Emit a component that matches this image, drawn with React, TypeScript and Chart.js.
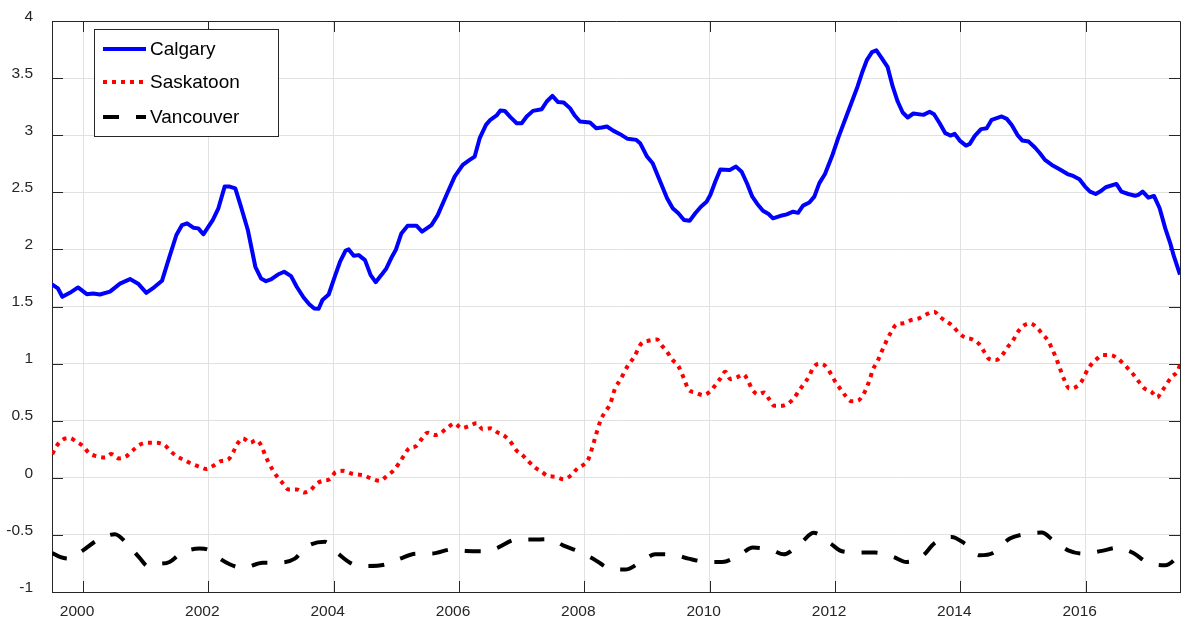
import React, { useEffect, useRef } from "react";
import { Chart, registerables } from "chart.js";

Chart.register(...registerables);

// ---------- data ----------
const seriesNames = ["Calgary", "Saskatoon", "Vancouver"];

const calgaryYears = [
  1999.505, 1999.6, 1999.67, 1999.79, 1999.92, 2000.06, 2000.16, 2000.27, 2000.43, 2000.59, 2000.75, 2000.88,
  2001.01, 2001.14, 2001.26, 2001.38, 2001.49, 2001.58, 2001.66, 2001.76, 2001.84, 2001.92, 2002.07, 2002.16,
  2002.26, 2002.34, 2002.43, 2002.52, 2002.63, 2002.75, 2002.84, 2002.92, 2003.0, 2003.11, 2003.21, 2003.32,
  2003.41, 2003.52, 2003.61, 2003.69, 2003.76, 2003.82, 2003.92, 2004.02, 2004.1, 2004.19, 2004.24, 2004.32,
  2004.4, 2004.5, 2004.59, 2004.67, 2004.76, 2004.84, 2004.93, 2004.99, 2005.08, 2005.18, 2005.32, 2005.41,
  2005.56, 2005.66, 2005.8, 2005.93, 2006.06, 2006.17, 2006.25, 2006.33, 2006.43, 2006.5, 2006.6, 2006.66,
  2006.73, 2006.82, 2006.92, 2007.0, 2007.08, 2007.18, 2007.32, 2007.4, 2007.49, 2007.58, 2007.67, 2007.77,
  2007.85, 2007.93, 2008.09, 2008.19, 2008.28, 2008.36, 2008.46, 2008.57, 2008.69, 2008.83, 2008.89, 2009.0,
  2009.09, 2009.21, 2009.32, 2009.41, 2009.5, 2009.59, 2009.68, 2009.77, 2009.86, 2009.95, 2010.01, 2010.09,
  2010.17, 2010.32, 2010.42, 2010.51, 2010.6, 2010.68, 2010.76, 2010.85, 2010.94, 2011.01, 2011.12, 2011.23,
  2011.33, 2011.41, 2011.49, 2011.59, 2011.67, 2011.75, 2011.84, 2011.95, 2012.05, 2012.16, 2012.27, 2012.36,
  2012.43, 2012.51, 2012.59, 2012.66, 2012.74, 2012.84, 2012.92, 2013.0, 2013.08, 2013.16, 2013.25, 2013.41,
  2013.51, 2013.58, 2013.67, 2013.76, 2013.84, 2013.91, 2013.99, 2014.09, 2014.15, 2014.23, 2014.33, 2014.42,
  2014.5, 2014.58, 2014.66, 2014.74, 2014.82, 2014.91, 2014.99, 2015.09, 2015.19, 2015.27, 2015.35, 2015.46,
  2015.59, 2015.71, 2015.8, 2015.9, 2015.99, 2016.07, 2016.16, 2016.23, 2016.32, 2016.49, 2016.57, 2016.68,
  2016.79, 2016.84, 2016.91, 2017.0, 2017.09, 2017.18, 2017.27, 2017.35, 2017.41, 2017.505,
];
const calgaryValues = [
  1.693, 1.658, 1.585, 1.62, 1.667, 1.608, 1.614, 1.605, 1.63, 1.7, 1.74, 1.7,
  1.62, 1.67, 1.725, 1.936, 2.126, 2.213, 2.228, 2.19, 2.184, 2.132, 2.257, 2.36,
  2.55, 2.55, 2.535, 2.374, 2.17, 1.848, 1.746, 1.722, 1.737, 1.78, 1.804, 1.766,
  1.673, 1.579, 1.52, 1.482, 1.48, 1.556, 1.605, 1.766, 1.89, 1.99, 2.0, 1.944,
  1.95, 1.906, 1.775, 1.713, 1.775, 1.833, 1.936, 1.994, 2.14, 2.208, 2.208, 2.155,
  2.213, 2.3, 2.477, 2.637, 2.74, 2.784, 2.813, 2.974, 3.09, 3.135, 3.173, 3.216,
  3.213, 3.158, 3.105, 3.105, 3.164, 3.213, 3.228, 3.295, 3.345, 3.29, 3.287, 3.237,
  3.17, 3.12, 3.111, 3.061, 3.067, 3.076, 3.04, 3.009, 2.968, 2.959, 2.93, 2.813,
  2.754, 2.594, 2.447, 2.36, 2.316, 2.257, 2.25, 2.316, 2.374, 2.418, 2.477, 2.594,
  2.7, 2.696, 2.725, 2.68, 2.573, 2.462, 2.398, 2.339, 2.31, 2.272, 2.292, 2.307,
  2.33, 2.32, 2.383, 2.41, 2.462, 2.58, 2.66, 2.813, 2.974, 3.135, 3.295, 3.427,
  3.544, 3.66, 3.728, 3.743, 3.68, 3.596, 3.427, 3.295, 3.199, 3.155, 3.19, 3.178,
  3.205, 3.184, 3.105, 3.018, 2.997, 3.012, 2.953, 2.909, 2.924, 2.994, 3.053, 3.061,
  3.135, 3.149, 3.164, 3.143, 3.09, 3.003, 2.953, 2.944, 2.892, 2.842, 2.784, 2.74,
  2.7, 2.66, 2.643, 2.614, 2.55, 2.506, 2.485, 2.506, 2.544, 2.573, 2.506, 2.485,
  2.47, 2.477, 2.506, 2.453, 2.468, 2.36, 2.184, 2.053, 1.936, 1.78,
];

const saskatoonYears = [
  1999.51, 1999.58, 1999.68, 1999.79, 1999.89, 2000.0, 2000.09, 2000.21, 2000.35, 2000.45, 2000.57, 2000.68,
  2000.79, 2000.9, 2001.02, 2001.17, 2001.3, 2001.39, 2001.49, 2001.62, 2001.72, 2001.86, 2001.97, 2002.08,
  2002.2, 2002.32, 2002.4, 2002.46, 2002.55, 2002.67, 2002.76, 2002.85, 2002.9, 2002.96, 2003.03, 2003.1,
  2003.19, 2003.28, 2003.41, 2003.53, 2003.63, 2003.73, 2003.83, 2003.94, 2004.03, 2004.15, 2004.28, 2004.38,
  2004.47, 2004.6, 2004.74, 2004.85, 2004.96, 2005.04, 2005.12, 2005.2, 2005.32, 2005.39, 2005.5, 2005.61,
  2005.7, 2005.82, 2005.93, 2006.04, 2006.16, 2006.28, 2006.38, 2006.5, 2006.61, 2006.74, 2006.83, 2006.91,
  2007.01, 2007.11, 2007.21, 2007.32, 2007.41, 2007.54, 2007.67, 2007.79, 2007.89, 2008.0, 2008.07, 2008.14,
  2008.18, 2008.26, 2008.33, 2008.41, 2008.49, 2008.57, 2008.7, 2008.79, 2008.91, 2009.02, 2009.16, 2009.23,
  2009.33, 2009.4, 2009.5, 2009.6, 2009.66, 2009.77, 2009.9, 2010.0, 2010.09, 2010.17, 2010.25, 2010.33,
  2010.45, 2010.54, 2010.62, 2010.68, 2010.77, 2010.87, 2010.95, 2011.03, 2011.14, 2011.25, 2011.34, 2011.43,
  2011.51, 2011.59, 2011.65, 2011.75, 2011.85, 2011.94, 2012.0, 2012.08, 2012.16, 2012.26, 2012.36, 2012.45,
  2012.51, 2012.56, 2012.6, 2012.68, 2012.73, 2012.78, 2012.84, 2012.9, 2012.98, 2013.1, 2013.22, 2013.34,
  2013.46, 2013.58, 2013.68, 2013.78, 2013.88, 2013.97, 2014.07, 2014.19, 2014.3, 2014.38, 2014.45, 2014.57,
  2014.68, 2014.76, 2014.85, 2014.91, 2015.0, 2015.11, 2015.23, 2015.31, 2015.4, 2015.46, 2015.52, 2015.57,
  2015.65, 2015.74, 2015.83, 2015.93, 2015.99, 2016.06, 2016.16, 2016.27, 2016.39, 2016.51, 2016.6, 2016.69,
  2016.77, 2016.85, 2016.94, 2017.05, 2017.14, 2017.21, 2017.28, 2017.37, 2017.47, 2017.505,
];
const saskatoonValues = [
  0.208, 0.28, 0.336, 0.348, 0.316, 0.278, 0.219, 0.19, 0.178, 0.208, 0.17, 0.184,
  0.237, 0.287, 0.307, 0.307, 0.287, 0.237, 0.19, 0.155, 0.126, 0.096, 0.076, 0.105,
  0.146, 0.161, 0.228, 0.295, 0.345, 0.307, 0.33, 0.278, 0.208, 0.135, 0.067, 0.009,
  -0.05, -0.102, -0.102, -0.129, -0.108, -0.05, -0.026, -0.012, 0.05, 0.061, 0.038, 0.029,
  0.023, -0.006, -0.026, 0.018, 0.067, 0.126, 0.193, 0.257, 0.28, 0.33, 0.395, 0.374,
  0.389, 0.44, 0.477, 0.433, 0.453, 0.477, 0.424, 0.433, 0.398, 0.36, 0.31, 0.243,
  0.199, 0.143, 0.091, 0.053, 0.018, 0.009, -0.012, 0.023, 0.082, 0.12, 0.17, 0.29,
  0.366, 0.504, 0.577, 0.644, 0.782, 0.855, 0.987, 1.054, 1.177, 1.2, 1.212, 1.163,
  1.095, 1.037, 0.978, 0.855, 0.773, 0.747, 0.723, 0.753, 0.811, 0.87, 0.928, 0.864,
  0.884, 0.905, 0.84, 0.773, 0.732, 0.747, 0.688, 0.63, 0.63, 0.65, 0.694, 0.767,
  0.826, 0.893, 0.963, 1.0, 0.978, 0.905, 0.846, 0.782, 0.723, 0.671, 0.674, 0.729,
  0.796, 0.87, 0.943, 1.022, 1.089, 1.148, 1.221, 1.28, 1.344, 1.353, 1.382, 1.397,
  1.432, 1.455, 1.406, 1.368, 1.329, 1.271, 1.23, 1.212, 1.171, 1.104, 1.045, 1.031,
  1.083, 1.148, 1.212, 1.271, 1.329, 1.353, 1.309, 1.259, 1.201, 1.133, 1.06, 0.987,
  0.87, 0.782, 0.791, 0.84, 0.905, 0.972, 1.031, 1.075, 1.075, 1.045, 1.0, 0.949,
  0.899, 0.84, 0.782, 0.753, 0.703, 0.753, 0.811, 0.884, 0.937, 0.99,
];

const vancouverYears = [
  1999.505, 1999.63, 1999.76, 2000.0, 2000.21, 2000.51, 2000.69, 2000.9, 2001.04, 2001.17, 2001.38, 2001.57,
  2001.86, 2001.99, 2002.07, 2002.34, 2002.55, 2002.87, 2003.09, 2003.38, 2003.56, 2003.86, 2004.04, 2004.31,
  2004.52, 2004.84, 2005.05, 2005.32, 2005.56, 2005.9, 2006.11, 2006.44, 2006.62, 2006.92, 2007.13, 2007.45,
  2007.66, 2007.93, 2008.14, 2008.41, 2008.65, 2008.94, 2009.13, 2009.42, 2009.66, 2009.98, 2010.2, 2010.49,
  2010.69, 2011.0, 2011.18, 2011.47, 2011.66, 2011.93, 2012.11, 2012.4, 2012.64, 2012.93, 2013.14, 2013.41,
  2013.58, 2013.86, 2014.07, 2014.31, 2014.52, 2014.79, 2015.0, 2015.3, 2015.48, 2015.72, 2015.96, 2016.26,
  2016.49, 2016.76, 2016.97, 2017.27, 2017.505,
];
const vancouverValues = [
  -0.658, -0.693, -0.708, -0.635, -0.553, -0.494, -0.57, -0.699, -0.775, -0.757, -0.737, -0.658,
  -0.62, -0.629, -0.664, -0.757, -0.789, -0.743, -0.743, -0.708, -0.605, -0.561, -0.649, -0.757,
  -0.772, -0.757, -0.71, -0.664, -0.664, -0.626, -0.64, -0.643, -0.611, -0.541, -0.541, -0.538,
  -0.591, -0.649, -0.708, -0.795, -0.804, -0.722, -0.67, -0.673, -0.708, -0.737, -0.737, -0.67,
  -0.611, -0.635, -0.67, -0.561, -0.482, -0.576, -0.643, -0.655, -0.655, -0.693, -0.737, -0.678,
  -0.576, -0.518, -0.576, -0.678, -0.658, -0.532, -0.497, -0.48, -0.547, -0.635, -0.664, -0.64,
  -0.614, -0.658, -0.737, -0.766, -0.678,
];

const xTickValues = [2000, 2002, 2004, 2006, 2008, 2010, 2012, 2014, 2016];
const yTickValues = [-1, -0.5, 0, 0.5, 1, 1.5, 2, 2.5, 3, 3.5, 4];
const xRange = [1999.505, 2017.505];
const yRange = [-1, 4];

// ---------- style ----------
const FONT = "'Liberation Sans', Arial, Helvetica, sans-serif";
const AXIS_COLOR = "#262626";
const GRID_COLOR = "#e1e1e1";
const seriesColors = ["#0000ff", "#ff0000", "#000000"];
const seriesDash: number[][] = [[], [4, 5], [16, 17]];

const toPoints = (xs: number[], ys: number[]) => xs.map((x, i) => ({ x, y: ys[i] }));

const boxTicksPlugin = {
  id: "boxTicks",
  beforeDatasetsDraw(chart: any) {
    const { ctx, chartArea } = chart;
    const { left, right, top, bottom } = chartArea;
    const xs = chart.scales.x;
    const ys = chart.scales.y;
    const L = 11;
    ctx.save();
    ctx.strokeStyle = AXIS_COLOR;
    ctx.lineWidth = 1;
    ctx.beginPath();
    xTickValues.forEach((v) => {
      const px = Math.round(xs.getPixelForValue(v)) + 0.5;
      ctx.moveTo(px, bottom);
      ctx.lineTo(px, bottom - L);
      ctx.moveTo(px, top);
      ctx.lineTo(px, top + L);
    });
    yTickValues.forEach((v) => {
      const py = Math.round(ys.getPixelForValue(v)) + 0.5;
      ctx.moveTo(left, py);
      ctx.lineTo(left + L, py);
      ctx.moveTo(right, py);
      ctx.lineTo(right - L, py);
    });
    ctx.stroke();
    ctx.beginPath();
    ctx.rect(Math.round(left) + 0.5, Math.round(top) + 0.5, Math.round(right - left), Math.round(bottom - top));
    ctx.stroke();
    ctx.restore();
  },
};

const legendPlugin = {
  id: "boxLegend",
  afterDraw(chart: any) {
    const { ctx } = chart;
    ctx.save();
    const bx = 94.5, by = 29.5, bw = 184, bh = 107;
    ctx.fillStyle = "#ffffff";
    ctx.fillRect(bx, by, bw, bh);
    ctx.strokeStyle = AXIS_COLOR;
    ctx.lineWidth = 1;
    ctx.strokeRect(bx, by, bw, bh);
    const rows = [49, 82, 117];
    seriesNames.forEach((name, i) => {
      const y = rows[i];
      ctx.beginPath();
      ctx.strokeStyle = seriesColors[i];
      ctx.lineWidth = 4;
      ctx.lineCap = "butt";
      ctx.setLineDash(seriesDash[i]);
      ctx.moveTo(103, y);
      ctx.lineTo(146, y);
      ctx.stroke();
      ctx.setLineDash([]);
      ctx.fillStyle = "#000000";
      ctx.font = `19px ${FONT}`;
      ctx.textBaseline = "middle";
      ctx.textAlign = "left";
      ctx.fillText(name, 150, y + 1);
    });
    ctx.restore();
  },
};

export default function App() {
  const canvasRef = useRef<HTMLCanvasElement | null>(null);

  useEffect(() => {
    document.body.style.margin = "0";
    const canvas = canvasRef.current;
    if (!canvas) return;
    Chart.defaults.font.family = FONT;

    const allXs = [calgaryYears, saskatoonYears, vancouverYears];
    const allYs = [calgaryValues, saskatoonValues, vancouverValues];

    const chart = new Chart(canvas, {
      type: "line",
      data: {
        datasets: seriesNames.map((name, i) => ({
          label: name,
          data: toPoints(allXs[i], allYs[i]),
          borderColor: seriesColors[i],
          backgroundColor: seriesColors[i],
          borderWidth: 4,
          borderDash: seriesDash[i],
          borderCapStyle: "butt",
          borderJoinStyle: "round",
          pointRadius: 0,
          fill: false,
          tension: i === 0 ? 0 : 0.4,
          cubicInterpolationMode: i === 0 ? "default" : "monotone",
        })),
      },
      options: {
        animation: false,
        responsive: false,
        devicePixelRatio: 1,
        events: [],
        layout: { padding: { top: 21, right: 5, left: 0, bottom: 0 } },
        plugins: { legend: { display: false }, tooltip: { enabled: false } },
        scales: {
          x: {
            type: "linear",
            min: xRange[0],
            max: xRange[1],
            afterBuildTicks: (s: any) => {
              s.ticks = xTickValues.map((v) => ({ value: v }));
            },
            afterFit: (s: any) => {
              s.height = 26;
              s.paddingLeft = 0;
              s.paddingRight = 0;
            },
            grid: { color: GRID_COLOR, lineWidth: 1, drawTicks: false },
            border: { display: true, color: AXIS_COLOR, width: 1 },
            ticks: {
              autoSkip: false,
              maxRotation: 0,
              padding: 10,
              labelOffset: -6,
              color: AXIS_COLOR,
              font: { size: 15.5, family: FONT },
              callback: (v: any) => String(v),
            },
          },
          y: {
            type: "linear",
            min: yRange[0],
            max: yRange[1],
            afterBuildTicks: (s: any) => {
              s.ticks = yTickValues.map((v) => ({ value: v }));
            },
            afterFit: (s: any) => {
              s.width = 52;
              s.paddingTop = 0;
              s.paddingBottom = 0;
            },
            grid: { color: GRID_COLOR, lineWidth: 1, drawTicks: false },
            border: { display: true, color: AXIS_COLOR, width: 1 },
            ticks: {
              autoSkip: false,
              padding: 19,
              labelOffset: -4.5,
              color: AXIS_COLOR,
              font: { size: 15.5, family: FONT },
              callback: (v: any) => String(v),
            },
          },
        },
      },
      plugins: [boxTicksPlugin, legendPlugin],
    } as any);

    return () => chart.destroy();
  }, []);

  return (
    <div style={{ position: "absolute", left: 0, top: 0, width: 1185, height: 618, background: "#fff" }}>
      <canvas ref={canvasRef} width={1185} height={618} style={{ width: 1185, height: 618, display: "block" }} />
    </div>
  );
}
